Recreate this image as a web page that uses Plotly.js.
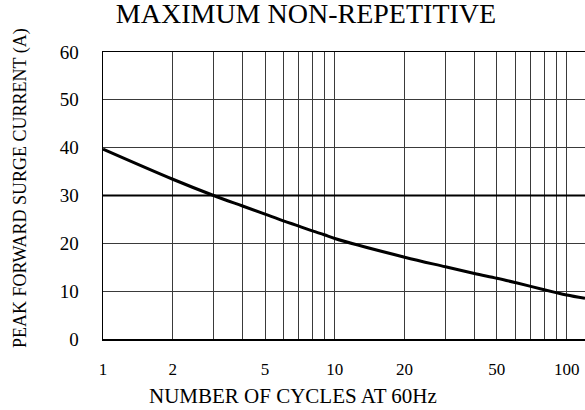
<!DOCTYPE html>
<html>
<head>
<meta charset="utf-8">
<script src="https://cdn.plot.ly/plotly-3.0.1.min.js"></script>
<style>html,body{margin:0;padding:0;background:#fff;}#chart{width:585px;height:410px;}</style>
</head>
<body>
<div id="chart"></div>
<script>
// Number of cycles at 60Hz (x) and peak forward surge current in A (y)
const cycles = [1, 2, 3, 4, 5, 6, 7, 8, 9, 10, 20, 30, 40, 50, 60, 70, 80, 90, 100, 120];
const surgeCurrent = [39.7, 33.4, 30.0, 27.8, 26.1, 24.7, 23.6, 22.6, 21.8, 21.0, 17.1, 15.1, 13.7, 12.7, 11.8, 11.0, 10.3, 9.7, 9.2, 8.5];
const xTickVals = [1, 2, 5, 10, 20, 50, 100];
const xTickText = ['1', '2', '5', '10', '20', '50', '100'];
const xGridVals = [1, 2, 3, 4, 5, 6, 7, 8, 9, 10, 20, 30, 40, 50, 60, 70, 80, 90, 100];
const yTickVals = [0, 10, 20, 30, 40, 50, 60];
const emphasizedGridY = 30;
const xTitle = 'NUMBER OF CYCLES AT 60Hz';
const yTitle = 'PEAK FORWARD SURGE CURRENT (A)';
const chartTitle = 'MAXIMUM NON-REPETITIVE';

const serif = 'Liberation Serif, Times New Roman, serif';

Plotly.newPlot('chart', [{
  x: cycles,
  y: surgeCurrent,
  mode: 'lines',
  line: {color: '#000', width: 3, shape: 'spline'},
  hoverinfo: 'skip'
}], {
  width: 585, height: 410,
  margin: {l: 103, r: 0, t: 52, b: 71},
  paper_bgcolor: '#fff', plot_bgcolor: '#fff',
  showlegend: false,
  title: {
    text: chartTitle,
    font: {family: serif, size: 28, color: '#000'},
    x: 306/585, xanchor: 'center', xref: 'container',
    yref: 'container', y: 1 - 13/410, yanchor: 'middle'
  },
  shapes: [{
    type: 'line', xref: 'paper', x0: 0, x1: 1, yref: 'y', y0: emphasizedGridY, y1: emphasizedGridY,
    line: {color: '#000', width: 2}, layer: 'above'
  }],
  annotations: [
    {text: xTitle, xref: 'paper', yref: 'paper', x: (292.5 - 103) / 482, y: -(396 - 339) / 287,
     xanchor: 'center', yanchor: 'middle', showarrow: false,
     font: {family: serif, size: 21, color: '#000'}},
    {text: yTitle, xref: 'paper', yref: 'paper', x: (20 - 103) / 482, y: (339 - 188) / 287,
     xanchor: 'center', yanchor: 'middle', showarrow: false, textangle: -90,
     font: {family: serif, size: 18, color: '#000'}}
  ],
  xaxis: {
    type: 'log',
    range: [0, Math.log10(120)],
    tickmode: 'array', tickvals: xTickVals, ticktext: xTickText,
    ticks: '', ticklabelstandoff: 14, ticklabeloverflow: 'allow',
    showgrid: false,
    minor: {tickmode: 'array', tickvals: xGridVals, showgrid: true, gridcolor: '#3a3a3a', gridwidth: 1, ticks: ''},
    showline: true, linecolor: '#000', linewidth: 1.5, mirror: true,
    zeroline: false,
    tickfont: {family: serif, size: 17, color: '#000'}
  },
  yaxis: {
    range: [0, 60],
    tickmode: 'array', tickvals: yTickVals,
    ticks: '', ticklabelstandoff: 19,
    showgrid: true, gridcolor: '#3a3a3a', gridwidth: 1,
    showline: true, linecolor: '#000', linewidth: 1.5,
    zeroline: false,
    tickfont: {family: serif, size: 19, color: '#000'}
  }
}, {displayModeBar: false, staticPlot: true});
</script>
</body>
</html>
